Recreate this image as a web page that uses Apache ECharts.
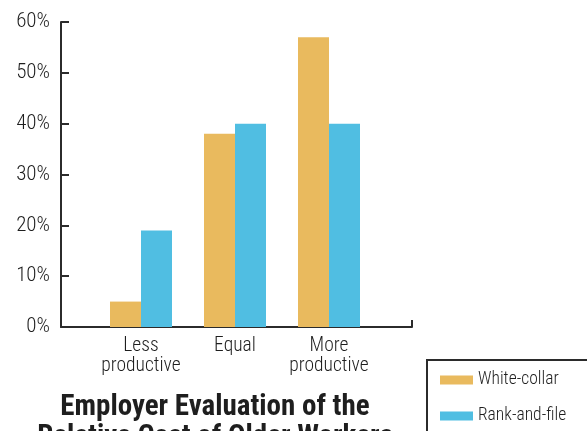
<!DOCTYPE html>
<html>
<head>
<meta charset="utf-8">
<script src="https://cdn.jsdelivr.net/npm/echarts@6/dist/echarts.min.js"></script>
<style>
  html, body { margin: 0; padding: 0; background: #fff; }
  #chart { width: 587px; height: 431px; }
</style>
</head>
<body>
<div id="chart"></div>
<script>
const categories = ['Less\nproductive', 'Equal', 'More\nproductive'];
const seriesNames = ['White-collar', 'Rank-and-file'];
const whiteCollar = [5, 38, 57];
const rankAndFile = [19, 40, 40];
const yMin = 0, yMax = 60, yStep = 10;
const titleText = 'Employer Evaluation of the\nRelative Cost of Older Workers';

// pick a condensed family if installed
const ctx = document.createElement('canvas').getContext('2d');
function installed(name) {
  const s = 'abcdefghijklmnopqrstuvwxyz WMil 0123456789';
  for (const base of ['monospace', 'serif']) {
    ctx.font = '40px ' + base;
    const a = ctx.measureText(s).width;
    ctx.font = '40px "' + name + '", ' + base;
    if (ctx.measureText(s).width !== a) return true;
  }
  return false;
}
const cand = ['Liberation Sans Narrow', 'Arial Narrow', 'Roboto Condensed', 'DejaVu Sans Condensed', 'Liberation Sans'];
let fam = 'sans-serif';
for (const c of cand) { if (installed(c)) { fam = '"' + c + '"'; break; } }
const FONT = fam + ', sans-serif';
function fit(text, weight, targetW, maxSize) {
  ctx.font = weight + ' 100px ' + FONT;
  const w = ctx.measureText(text).width;
  return Math.min(maxSize, Math.round(100 * targetW / w * 2) / 2);
}
const titleSize = fit('Employer Evaluation of the', 'bold', 311, 29);
const xLabSize = fit('productive', '300', 80, 21);
const yLabSize = fit('60%', '300', 36, 21);
const legSize = fit('White-collar', '300', 80, 19);

const AXIS = '#2b2b2b';
const ORANGE = '#E9BA5E';
const BLUE = '#50BEE2';

const chart = echarts.init(document.getElementById('chart'), null, { renderer: 'canvas' });
chart.setOption({
  animation: false,
  backgroundColor: '#ffffff',
  title: {
    text: titleText,
    left: 215,
    top: 418 - 0.35 * titleSize - 15,
    textAlign: 'center',
    padding: 0,
    textStyle: {
      fontFamily: FONT,
      fontSize: titleSize,
      fontWeight: 'bold',
      lineHeight: 30,
      color: '#1e1e1e',
      align: 'center'
    }
  },
  legend: {
    orient: 'vertical',
    left: 427,
    top: 360,
    height: 120,
    padding: [10, 40, 30, 13],
    borderColor: AXIS,
    borderWidth: 2,
    itemWidth: 33,
    itemHeight: 9,
    itemGap: 16,
    icon: 'rect',
    data: seriesNames,
    textStyle: { fontFamily: FONT, fontWeight: 300, fontSize: legSize, lineHeight: 20, color: '#1e1e1e' }
  },
  grid: [
    { left: 61, right: 175, top: 22, bottom: 104 },
    { left: 94, right: 211, top: 22, bottom: 104 }
  ],
  xAxis: [
    {
      gridIndex: 0, type: 'value', min: 0, max: 1, interval: 1,
      axisLine: { show: true, lineStyle: { color: AXIS, width: 2 } },
      axisTick: { show: true, inside: true, length: 7, lineStyle: { color: AXIS, width: 2 } },
      axisLabel: { show: false },
      splitLine: { show: false }
    },
    {
      gridIndex: 1, type: 'category', data: categories,
      axisLine: { show: false },
      axisTick: { show: false },
      axisLabel: {
        interval: 0,
        margin: 9,
        fontFamily: FONT, fontWeight: 300, fontSize: xLabSize, lineHeight: 20, color: '#1e1e1e'
      }
    }
  ],
  yAxis: [
    {
      gridIndex: 0, type: 'value', min: yMin, max: yMax, interval: yStep,
      axisLine: { show: true, lineStyle: { color: AXIS, width: 2 } },
      axisTick: { show: true, inside: true, length: 8, lineStyle: { color: AXIS, width: 2 } },
      axisLabel: {
        formatter: '{value}%', margin: 11,
        fontFamily: FONT, fontWeight: 300, fontSize: yLabSize, color: '#1e1e1e'
      },
      splitLine: { show: false }
    },
    {
      gridIndex: 1, type: 'value', min: yMin, max: yMax, interval: yStep,
      show: false
    }
  ],
  series: [
    {
      name: seriesNames[0], type: 'bar', xAxisIndex: 1, yAxisIndex: 1,
      data: whiteCollar, barWidth: 31, barGap: '0%',
      itemStyle: { color: ORANGE }
    },
    {
      name: seriesNames[1], type: 'bar', xAxisIndex: 1, yAxisIndex: 1,
      data: rankAndFile, barWidth: 31, barGap: '0%',
      itemStyle: { color: BLUE }
    }
  ]
});
</script>
</body>
</html>
